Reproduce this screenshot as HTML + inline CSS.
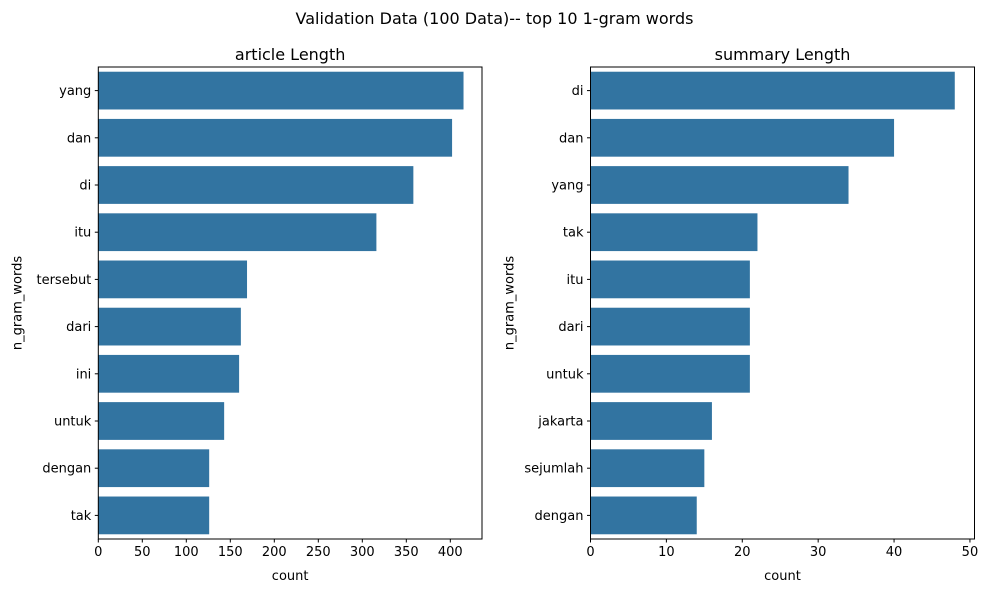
<!DOCTYPE html>
<html><head><meta charset="utf-8"><style>
body{margin:0;background:#fff;font-family:"Liberation Sans","DejaVu Sans",sans-serif;}
svg text{font-family:"DejaVu Sans","Liberation Sans",sans-serif;}
</style></head><body>
<svg id="c" width="989" height="592" xmlns="http://www.w3.org/2000/svg">
<text x="494.5" y="24" text-anchor="middle" font-size="16" fill="#000">Validation Data (100 Data)-- top 10 1-gram words</text>
</svg>
<script>
const leftCats=["yang","dan","di","itu","tersebut","dari","ini","untuk","dengan","tak"];
const leftVals=[415,402,358,316,169,162,160,143,126,126];
const leftTicks=[0,50,100,150,200,250,300,350,400];
const rightCats=["di","dan","yang","tak","itu","dari","untuk","jakarta","sejumlah","dengan"];
const rightVals=[48,40,34,22,21,21,21,16,15,14];
const rightTicks=[0,10,20,30,40,50];
const NS="http://www.w3.org/2000/svg";
const svg=document.getElementById('c');
function mk(t,a,p){const e=document.createElementNS(NS,t);for(const k in a)e.setAttribute(k,a[k]);(p||svg).appendChild(e);return e;}
function panel(name,title,cats,vals,ticks,x0,x1,xmax){
  const y0=67,y1=539;
  const g=mk('g',{});
  
  
  const sx=v=>x0+(x1-x0)*v/xmax;
  const band=(y1-y0)/cats.length;
  const sy=i=>y0+band*(i+0.5);
  cats.forEach((c,i)=>{
    const r=mk('rect',{x:sx(0),y:sy(i)-band*0.4,width:sx(vals[i])-sx(0),height:band*0.8,fill:'#3274a1'},g);
    
    
    mk('line',{x1:x0-3.5,x2:x0,y1:sy(i),y2:sy(i),stroke:'#000','stroke-width':1},g);
    const t=mk('text',{x:x0-7,y:sy(i)+4.5,'text-anchor':'end','font-size':13},g);
    t.textContent=c;
    
    
  });
  ticks.forEach(v=>{
    mk('line',{x1:sx(v),x2:sx(v),y1:y1,y2:y1+3.5,stroke:'#000','stroke-width':1},g);
    const t=mk('text',{x:sx(v),y:y1+17,'text-anchor':'middle','font-size':13},g);
    t.textContent=v;
    
    
  });
  const fr=mk('rect',{x:x0,y:y0,width:x1-x0,height:y1-y0,fill:'none',stroke:'#000','stroke-width':1},g);
  
  
  const tt=mk('text',{x:(x0+x1)/2,y:60,'text-anchor':'middle','font-size':16},g);
  tt.textContent=title;
  
  
  const xl=mk('text',{x:(x0+x1)/2,y:580,'text-anchor':'middle','font-size':13},g);
  xl.textContent='count';
  
  
  const yl=mk('text',{x:0,y:0,'text-anchor':'middle','font-size':13,transform:`translate(${x0-77},${(y0+y1)/2}) rotate(-90)`},g);
  yl.textContent='n_gram_words';
  
  
}
panel('left-panel','article Length',leftCats,leftVals,leftTicks,98.3,482,436);
panel('right-panel','summary Length',rightCats,rightVals,rightTicks,590.5,974.5,50.6);
</script>
</body></html>
